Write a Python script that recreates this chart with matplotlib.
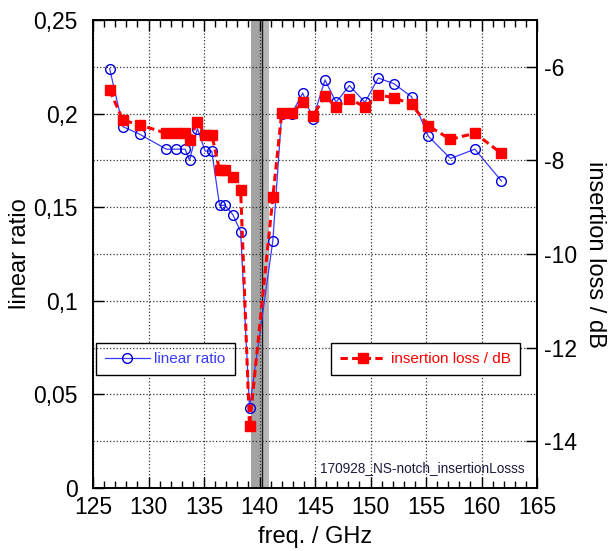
import matplotlib
matplotlib.use('Agg')
import matplotlib.pyplot as plt
from matplotlib.ticker import FixedLocator, FixedFormatter, MultipleLocator

plt.rcParams['font.family'] = ['Liberation Sans', 'DejaVu Sans']

# measured points: frequency, linear transmission ratio and the same in dB
freq_ghz = [126.5, 127.7, 129.2, 131.6, 132.5, 133.3, 133.7, 134.4, 135.1, 135.7,
            136.4, 136.9, 137.6, 138.3, 139.1, 141.2, 142.0, 142.9, 143.9, 144.8,
            145.9, 146.9, 148.1, 149.5, 150.7, 152.1, 153.7, 155.2, 157.2, 159.4,
            161.8]
ratio = [0.224, 0.193, 0.189, 0.181, 0.181, 0.181, 0.175, 0.192, 0.180, 0.180,
         0.151, 0.151, 0.146, 0.137, 0.043, 0.132, 0.200, 0.200, 0.211, 0.197,
         0.218, 0.206, 0.215, 0.206, 0.219, 0.216, 0.209, 0.188, 0.176, 0.181,
         0.164]
loss_db = [-6.50, -7.14, -7.24, -7.42, -7.42, -7.42, -7.57, -7.17, -7.45, -7.45,
           -8.21, -8.21, -8.36, -8.63, -13.67, -8.79, -6.99, -6.99, -6.76, -7.06,
           -6.62, -6.86, -6.68, -6.86, -6.60, -6.66, -6.80, -7.26, -7.55, -7.42,
           -7.85]

left_ticks = [0, 0.05, 0.1, 0.15, 0.2, 0.25]
left_labels = ['0', '0,05', '0,1', '0,15', '0,2', '0,25']
right_ticks = [-14, -12, -10, -8, -6]
right_labels = ['-14', '-12', '-10', '-8', '-6']

notch_lo, notch_mid, notch_hi = 139.2, 140.1, 140.9
notch_line = 140.2

fig = plt.figure(figsize=(6.16, 5.51), dpi=100)
ax = fig.add_axes([93 / 616, 63 / 551, 444 / 616, 468 / 551])
ax2 = ax.twinx()

# notch marker
ax.axvspan(notch_lo, notch_mid, color='#a3a3a3', lw=0, zorder=0)
ax.axvspan(notch_mid, notch_hi, color='#b8b8b8', lw=0, zorder=0)
ax.axvline(notch_line, color='#1a1a1a', lw=1.0, zorder=0.5)

ax.plot(freq_ghz, ratio, '-', color='#3a3aff', lw=0.9, marker='o', ms=7,
        mfc='none', mec='#0000dd', mew=1.0, label='linear ratio', zorder=3)
ax2.plot(freq_ghz, loss_db, color='#ff0000', lw=2.2, ls=(0, (2.4, 1.4)),
         marker='s', ms=7.5, mfc='#ff0000', mec='#ff0000',
         label='insertion loss / dB', zorder=3)

ax.set_xlim(125, 165)
ax.set_ylim(0, 0.25)
ax2.set_ylim(-15, -5)

ax.xaxis.set_major_locator(MultipleLocator(5))
ax.xaxis.set_minor_locator(MultipleLocator(1))
ax.yaxis.set_major_locator(FixedLocator(left_ticks))
ax.yaxis.set_major_formatter(FixedFormatter(left_labels))
ax2.yaxis.set_major_locator(FixedLocator(right_ticks))
ax2.yaxis.set_major_formatter(FixedFormatter(right_labels))

ax.tick_params(axis='x', which='both', direction='in', top=True, labelsize=16.5, pad=6)
ax.tick_params(axis='x', which='major', length=8, width=1)
ax.tick_params(axis='x', which='minor', length=5, width=1)
ax.tick_params(axis='y', direction='in', length=8, width=1, labelsize=16.5, pad=11)
ax2.tick_params(axis='y', direction='in', length=8, width=1, labelsize=16.5, pad=5)

ax.grid(True, axis='both', ls=':', color='#333333', lw=0.9)
ax2.grid(True, axis='y', ls=':', color='#333333', lw=0.9)
ax.set_axisbelow(True)

for spine in ax.spines.values():
    spine.set_linewidth(1.2)
for spine in ax2.spines.values():
    spine.set_linewidth(1.2)

ax.set_xlabel('freq. / GHz', fontsize=17, va='center')
ax.xaxis.set_label_coords(0.5, -0.105)
ax.set_ylabel('linear ratio', fontsize=17, va='center')
ax.yaxis.set_label_coords(-0.165, 0.5)
ax2.set_ylabel('insertion loss / dB', fontsize=17, rotation=270, va='center')
ax2.yaxis.set_label_coords(1.13, 0.5)

leg1 = ax.legend(loc='upper left', bbox_to_anchor=(0.007, 0.31), fontsize=11,
                 fancybox=False, framealpha=1, edgecolor='black', borderaxespad=0,
                 labelcolor='linecolor', handlelength=2.9, handletextpad=0.3,
                 borderpad=0.6)
leg1.get_frame().set_linewidth(1.0)
leg2 = ax2.legend(loc='upper right', bbox_to_anchor=(0.962, 0.31), fontsize=11,
                  fancybox=False, framealpha=1, edgecolor='black', borderaxespad=0,
                  labelcolor='linecolor', handlelength=3.0, handletextpad=0.35,
                  borderpad=0.6)
leg2.get_frame().set_linewidth(1.0)

ax2.text(0.973, 0.043, '170928_NS-notch_insertionLosss', transform=ax.transAxes,
         ha='right', va='center', fontsize=9.8, color='#1c1c3c')

fig.savefig('out.png', dpi=100)
